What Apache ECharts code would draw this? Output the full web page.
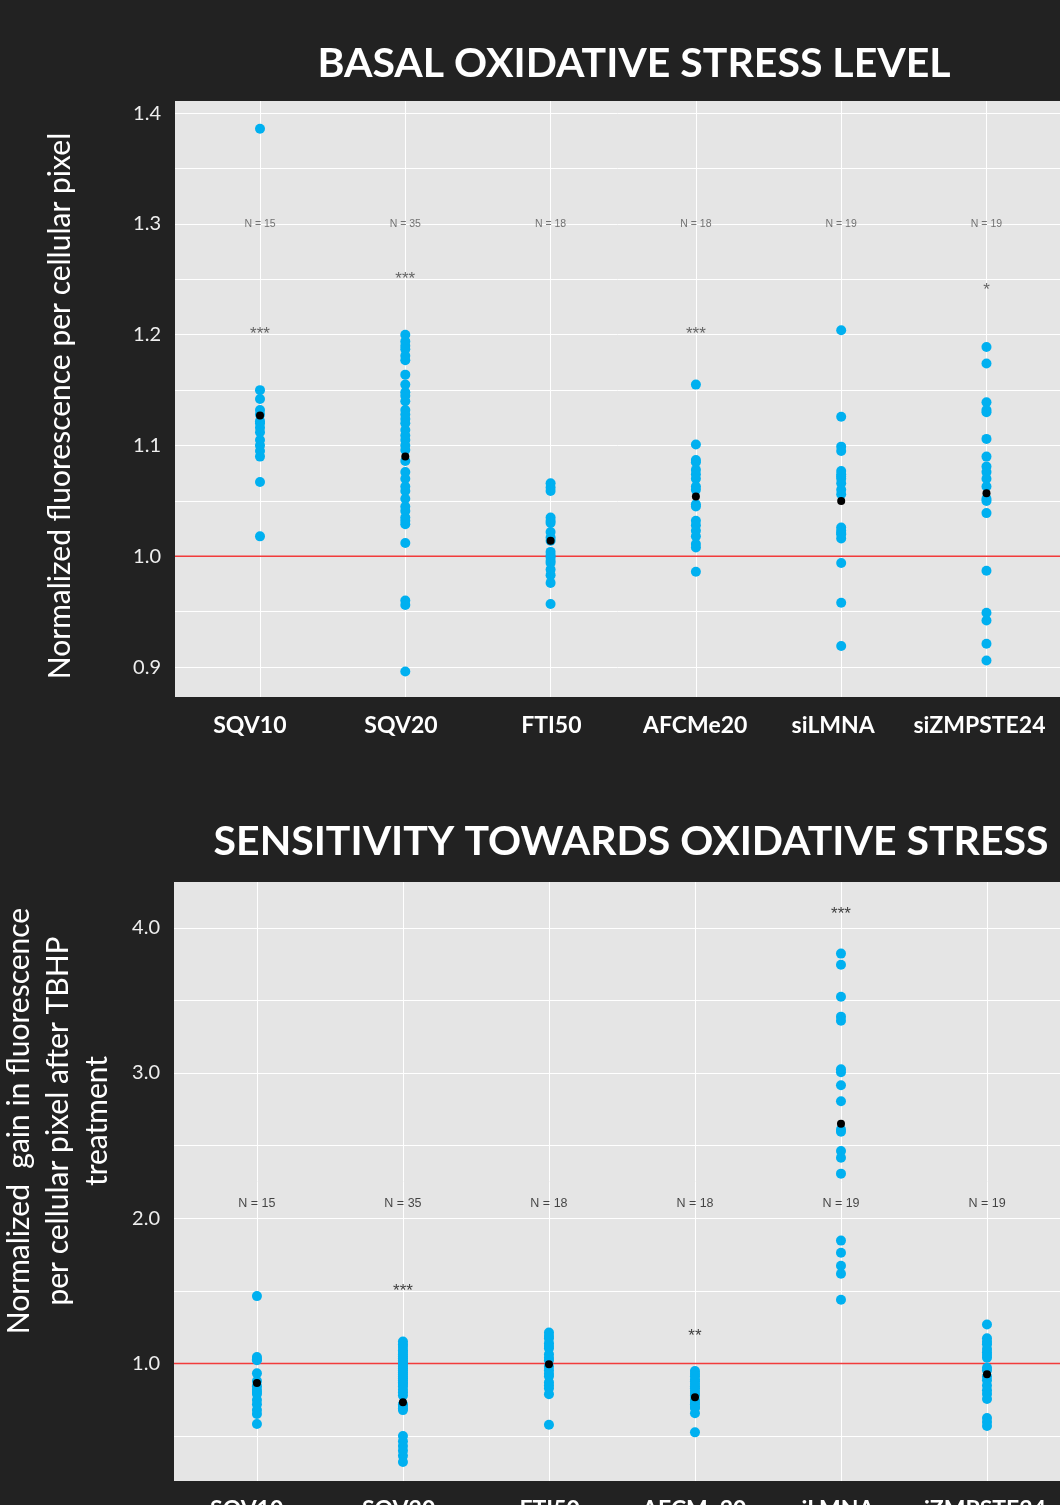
<!DOCTYPE html>
<html>
<head>
<meta charset="utf-8">
<script src="https://cdn.jsdelivr.net/npm/echarts@6/dist/echarts.min.js"></script>
<style>
  html, body { margin: 0; padding: 0; background: #222222; }
  #chart { width: 1060px; height: 1505px; }
</style>
</head>
<body>
<div id="chart"></div>
<script>
const categories = ["SQV10", "SQV20", "FTI50", "AFCMe20", "siLMNA", "siZMPSTE24"]
const refValue = 1.0

// basal oxidative stress level (top panel)
const basalSQV10 = [1.386, 1.150, 1.142, 1.132, 1.128, 1.122, 1.120, 1.116, 1.112, 1.105, 1.100, 1.095, 1.090, 1.067, 1.018]
const basalSQV20 = [1.200, 1.194, 1.190, 1.187, 1.181, 1.177, 1.164, 1.155, 1.148, 1.145, 1.140, 1.132, 1.128, 1.124, 1.120,
  1.114, 1.109, 1.105, 1.100, 1.096, 1.086, 1.076, 1.070, 1.063, 1.059, 1.052, 1.045, 1.041, 1.035, 1.032,
  1.029, 1.012, 0.960, 0.956, 0.896]
const basalFTI50 = [1.066, 1.062, 1.059, 1.035, 1.032, 1.030, 1.022, 1.017, 1.014, 1.004, 1.001, 0.999, 0.996, 0.994, 0.988, 0.983, 0.976, 0.957]
const basalAFCMe20 = [1.155, 1.101, 1.087, 1.085, 1.078, 1.074, 1.070, 1.063, 1.060, 1.047, 1.045, 1.032, 1.028, 1.023, 1.018, 1.011, 1.008, 0.986]
const basalSiLMNA = [1.204, 1.126, 1.099, 1.095, 1.077, 1.074, 1.072, 1.070, 1.066, 1.060, 1.056, 1.026, 1.023, 1.021, 1.020, 1.016, 0.994, 0.958, 0.919]
const basalSiZMPSTE24 = [1.189, 1.174, 1.139, 1.132, 1.130, 1.106, 1.090, 1.081, 1.076, 1.070, 1.063, 1.052, 1.050, 1.039, 0.987, 0.949, 0.942, 0.921, 0.906]
const basalMeans = [1.127, 1.090, 1.014, 1.054, 1.050, 1.057]
const basalN = ["N = 15", "N = 35", "N = 18", "N = 18", "N = 19", "N = 19"]
const basalNY = 1.3
const basalStars = ["***", "***", "", "***", "", "*"]
const basalStarY = [1.2, 1.25, null, 1.2, null, 1.24]
const basalTicks = [0.9, 1.0, 1.1, 1.2, 1.3, 1.4]
const basalGrid = [0.9, 0.95, 1.0, 1.05, 1.1, 1.15, 1.2, 1.25, 1.3, 1.35, 1.4]

// sensitivity towards oxidative stress (bottom panel)
const sensSQV10 = [1.464, 1.044, 1.030, 1.022, 0.932, 0.880, 0.844, 0.820, 0.803, 0.790, 0.748, 0.720, 0.679, 0.652, 0.583]
const sensSQV20 = [1.151, 1.130, 1.113, 1.091, 1.080, 1.063, 1.050, 1.036, 1.020, 1.008, 0.995, 0.981, 0.965, 0.954, 0.940,
  0.926, 0.910, 0.899, 0.885, 0.871, 0.858, 0.844, 0.820, 0.802, 0.780, 0.720, 0.707, 0.690, 0.679, 0.501,
  0.465, 0.432, 0.400, 0.364, 0.322]
const sensFTI50 = [1.214, 1.190, 1.173, 1.140, 1.120, 1.105, 1.064, 1.040, 1.022, 0.980, 0.954, 0.930, 0.912, 0.871, 0.850, 0.830, 0.789, 0.578]
const sensAFCMe20 = [0.948, 0.930, 0.913, 0.890, 0.877, 0.860, 0.844, 0.830, 0.811, 0.790, 0.780, 0.748, 0.730, 0.720, 0.700, 0.693, 0.657, 0.526]
const sensSiLMNA = [3.822, 3.745, 3.525, 3.388, 3.360, 3.026, 3.006, 2.916, 2.806, 2.610, 2.595, 2.463, 2.416, 2.307, 1.846, 1.763, 1.673, 1.618, 1.439]
const sensSiZMPSTE24 = [1.269, 1.173, 1.150, 1.132, 1.100, 1.077, 1.058, 1.040, 0.970, 0.954, 0.910, 0.885, 0.849, 0.816, 0.790, 0.756, 0.625, 0.597, 0.570]
const sensMeans = [0.866, 0.734, 0.995, 0.767, 2.650, 0.926]
const sensN = ["N = 15", "N = 35", "N = 18", "N = 18", "N = 19", "N = 19"]
const sensNY = 2.1
const sensStars = ["", "***", "", "**", "***", ""]
const sensStarY = [null, 1.5, null, 1.19, 4.09, null]
const sensTicks = [1.0, 2.0, 3.0, 4.0]
const sensGrid = [0.5, 1.0, 1.5, 2.0, 2.5, 3.0, 3.5, 4.0]

const basalGroups = [basalSQV10, basalSQV20, basalFTI50, basalAFCMe20, basalSiLMNA, basalSiZMPSTE24]
const sensGroups = [sensSQV10, sensSQV20, sensFTI50, sensAFCMe20, sensSiLMNA, sensSiZMPSTE24]
const catIdx = [0, 1, 2, 3, 4, 5]

const BLUE = "#00B0F0"
const RED = "#f23b3b"
const FONT = "Lato, 'Open Sans', sans-serif"

// x extents of each panel (category index units)
const topX = [-0.585, 5.506]
const bottomX = [-0.568, 5.5]
// the category names sit a little left of their columns in the original
const labelShift = [-0.07, -0.03, 0.005, -0.005, -0.055, -0.048]

const toPoints = (groups) => {
  const out = []
  groups.forEach((g, i) => g.forEach((v) => out.push([i, v])))
  return out
}

const textPoints = (texts, ys) =>
  texts.map((t, i) => [i, Array.isArray(ys) ? ys[i] : ys, t]).filter((d) => d[2] && d[1] != null)

const xAxisFor = (gridIndex, ext) => ({
  gridIndex,
  type: "value",
  min: ext[0],
  max: ext[1],
  axisLine: { show: false, onZero: false },
  axisTick: { show: false, customValues: catIdx },
  axisLabel: {
    customValues: catIdx.map((i) => i + labelShift[i]),
    formatter: (v) => categories[Math.round(v)],
    color: "#ffffff",
    fontFamily: FONT,
    fontWeight: "bold",
    fontSize: 23,
    margin: 17,
  },
  splitLine: { show: true, lineStyle: { color: "#ffffff", width: 1 } },
})

const yAxisFor = (gridIndex, min, max, ticks, grid) => ({
  gridIndex,
  type: "value",
  min,
  max,
  axisLine: { show: false, onZero: false },
  axisTick: { show: false, customValues: grid },
  axisLabel: {
    customValues: ticks,
    formatter: (v) => v.toFixed(1),
    color: "#eeeeee",
    fontFamily: FONT,
    fontSize: 20,
    margin: 14,
  },
  splitLine: { show: true, lineStyle: { color: "#ffffff", width: 1 } },
})

// red reference line at 1.0 across the panel, under the points
const refLine = (axisIndex, ext) => ({
  type: "line",
  name: "ref" + axisIndex,
  xAxisIndex: axisIndex,
  yAxisIndex: axisIndex,
  data: [[ext[0], refValue], [ext[1], refValue]],
  symbol: "none",
  silent: true,
  color: RED,
  lineStyle: { color: RED, width: 1.6 },
  z: 1.5,
})

const points = (axisIndex, data) => ({
  type: "scatter",
  name: "points" + axisIndex,
  xAxisIndex: axisIndex,
  yAxisIndex: axisIndex,
  data,
  symbolSize: 10,
  itemStyle: { color: BLUE, opacity: 1 },
  z: 2,
})

const means = (axisIndex, data) => ({
  type: "scatter",
  name: "means" + axisIndex,
  xAxisIndex: axisIndex,
  yAxisIndex: axisIndex,
  data,
  symbolSize: 8,
  itemStyle: { color: "#000000", opacity: 1 },
  z: 3,
})

const labels = (axisIndex, name, data, color, size) => ({
  type: "scatter",
  name,
  xAxisIndex: axisIndex,
  yAxisIndex: axisIndex,
  data,
  symbolSize: 1,
  itemStyle: { color: "rgba(0,0,0,0)" },
  z: 5,
  label: {
    show: true,
    position: "inside",
    formatter: (p) => p.data[2],
    color,
    fontSize: size,
    fontFamily: "'Liberation Sans', Arial, sans-serif",
  },
})

const chart = echarts.init(document.getElementById("chart"))

chart.setOption({
  backgroundColor: "#222222",
  animation: false,
  grid: [
    { left: 175, top: 101, width: 885, height: 596, show: true, backgroundColor: "#E5E5E5", borderWidth: 0, outerBoundsMode: "none" },
    { left: 174, top: 882, width: 886, height: 599, show: true, backgroundColor: "#E5E5E5", borderWidth: 0, outerBoundsMode: "none" },
  ],
  xAxis: [xAxisFor(0, topX), xAxisFor(1, bottomX)],
  yAxis: [
    yAxisFor(0, 0.873, 1.411, basalTicks, basalGrid),
    yAxisFor(1, 0.191, 4.315, sensTicks, sensGrid),
  ],
  graphic: [
    {
      type: "text", x: 634, y: 64,
      style: { text: "BASAL OXIDATIVE STRESS LEVEL", fill: "#ffffff", font: "bold 41px " + FONT, textAlign: "center", textVerticalAlign: "middle" },
    },
    {
      type: "text", x: 631, y: 842,
      style: { text: "SENSITIVITY TOWARDS OXIDATIVE STRESS", fill: "#ffffff", font: "bold 41px " + FONT, textAlign: "center", textVerticalAlign: "middle" },
    },
    {
      type: "text", x: 60, y: 406, rotation: Math.PI / 2,
      style: { text: "Normalized fluorescence per cellular pixel", fill: "#ffffff", font: "30px " + FONT, textAlign: "center", textVerticalAlign: "middle" },
    },
    {
      type: "text", x: 58, y: 1121, rotation: Math.PI / 2,
      style: {
        text: "Normalized  gain in fluorescence\nper cellular pixel after TBHP\ntreatment",
        fill: "#ffffff", font: "30px " + FONT, lineHeight: 39, textAlign: "center", textVerticalAlign: "middle",
      },
    },
  ],
  series: [
    refLine(0, topX),
    points(0, toPoints(basalGroups)),
    means(0, basalMeans.map((v, i) => [i, v])),
    labels(0, "basalN", textPoints(basalN, basalNY), "#555555", 10.5),
    labels(0, "basalStars", textPoints(basalStars, basalStarY), "#444444", 17),
    refLine(1, bottomX),
    points(1, toPoints(sensGroups)),
    means(1, sensMeans.map((v, i) => [i, v])),
    labels(1, "sensN", textPoints(sensN, sensNY), "#1a1a1a", 12.5),
    labels(1, "sensStars", textPoints(sensStars, sensStarY), "#111111", 17),
  ],
})
</script>
</body>
</html>
